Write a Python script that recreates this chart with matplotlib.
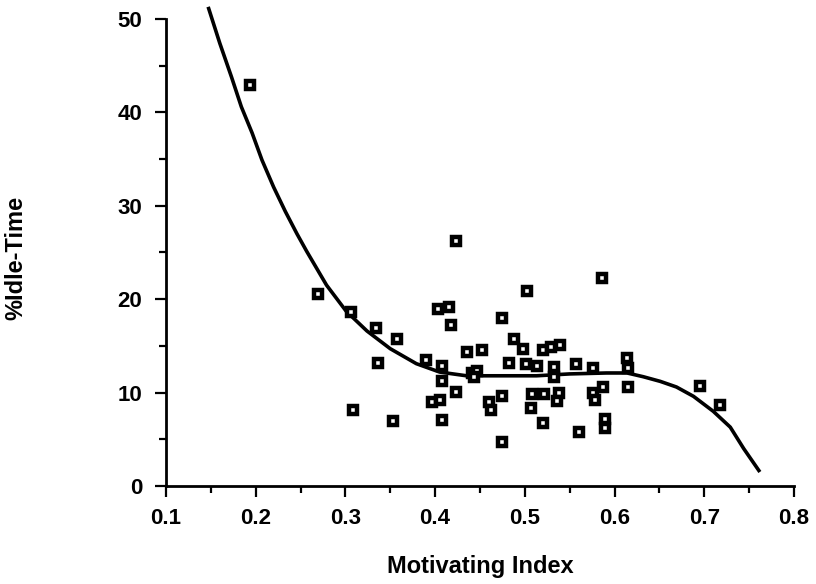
import matplotlib.pyplot as plt
from matplotlib.ticker import MultipleLocator

# scatter points (Motivating Index, %Idle-Time)
motiv = [0.194, 0.269, 0.306, 0.334, 0.357, 0.336, 0.308, 0.353,
         0.403, 0.415, 0.418, 0.423, 0.436, 0.452, 0.390, 0.408,
         0.408, 0.423, 0.396, 0.405, 0.408, 0.441, 0.447, 0.443,
         0.475, 0.488, 0.498, 0.502, 0.520, 0.529, 0.539, 0.482,
         0.501, 0.514, 0.533, 0.533, 0.557, 0.576, 0.586, 0.614,
         0.615, 0.615, 0.587, 0.576, 0.578, 0.508, 0.521, 0.538,
         0.536, 0.507, 0.475, 0.460, 0.462, 0.520, 0.560, 0.589,
         0.589, 0.475, 0.695, 0.718]
idle = [42.9, 20.6, 18.6, 16.9, 15.7, 13.2, 8.1, 7.0,
        18.9, 19.2, 17.2, 26.2, 14.3, 14.6, 13.5, 12.9,
        11.2, 10.1, 9.0, 9.2, 7.1, 12.1, 12.3, 11.7,
        18.0, 15.7, 14.7, 20.9, 14.6, 14.9, 15.1, 13.2,
        13.1, 12.8, 12.7, 11.7, 13.1, 12.6, 22.3, 13.7,
        12.6, 10.6, 10.6, 10.0, 9.2, 9.8, 9.85, 10.0,
        9.1, 8.4, 9.6, 9.0, 8.1, 6.7, 5.8, 7.2,
        6.2, 4.7, 10.7, 8.7]

# fitted curve
fit_x = [0.147, 0.160, 0.173, 0.184, 0.196, 0.207, 0.220, 0.233, 0.246,
         0.257, 0.279, 0.301, 0.324, 0.350, 0.379, 0.405, 0.435, 0.476,
         0.513, 0.550, 0.591, 0.614, 0.632, 0.651, 0.669, 0.688, 0.710,
         0.729, 0.744, 0.762]
fit_y = [51.3, 47.4, 43.8, 40.6, 37.8, 34.9, 32.0, 29.4, 27.0,
         25.1, 21.5, 18.7, 16.6, 14.7, 13.1, 12.2, 11.8, 11.8,
         11.8, 12.0, 12.1, 12.1, 11.7, 11.2, 10.6, 9.6, 8.0,
         6.3, 4.0, 1.5]

xticks = [0.1, 0.2, 0.3, 0.4, 0.5, 0.6, 0.7, 0.8]
yticks = [0, 10, 20, 30, 40, 50]

plt.rcParams['font.family'] = ['Liberation Sans', 'DejaVu Sans']

fig = plt.figure(figsize=(8.16, 5.84), dpi=100)
ax = fig.add_axes([0.2034, 0.1678, 0.7696, 0.8317])

ax.plot(fit_x, fit_y, color='black', lw=2.6, solid_capstyle='butt',
        solid_joinstyle='round', zorder=2)
ax.plot(motiv, idle, ls='none', marker='s', ms=6.4, mew=3.2,
        mfc='white', mec='black', zorder=3)

ax.set_xlim(0.1, 0.8)
ax.set_ylim(0, 52)
ax.spines['top'].set_visible(False)
ax.spines['right'].set_visible(False)
ax.spines['left'].set_bounds(0, 50)
for s in ['left', 'bottom']:
    ax.spines[s].set_linewidth(2)

ax.set_xticks(xticks)
ax.set_xticklabels([f"{v:.1f}" for v in xticks])
ax.set_yticks(yticks)
ax.xaxis.set_minor_locator(MultipleLocator(0.05))
ax.yaxis.set_minor_locator(MultipleLocator(5))
ax.tick_params(which='major', length=8, width=1.6, direction='out',
               labelsize=16)
ax.tick_params(axis='x', which='major', pad=8)
ax.tick_params(axis='y', which='major', pad=9)
ax.tick_params(which='minor', length=4.7, width=1.6, direction='out')
for lab in ax.get_xticklabels() + ax.get_yticklabels():
    lab.set_fontweight('bold')

ax.set_xlabel("Motivating Index", fontsize=17, fontweight='bold')
ax.set_ylabel("%Idle-Time", fontsize=17, fontweight='bold')
ax.xaxis.set_label_coords(0.5, -0.142)
ax.yaxis.set_label_coords(-0.22, 0.47)

fig.savefig('out.png', dpi=100)
